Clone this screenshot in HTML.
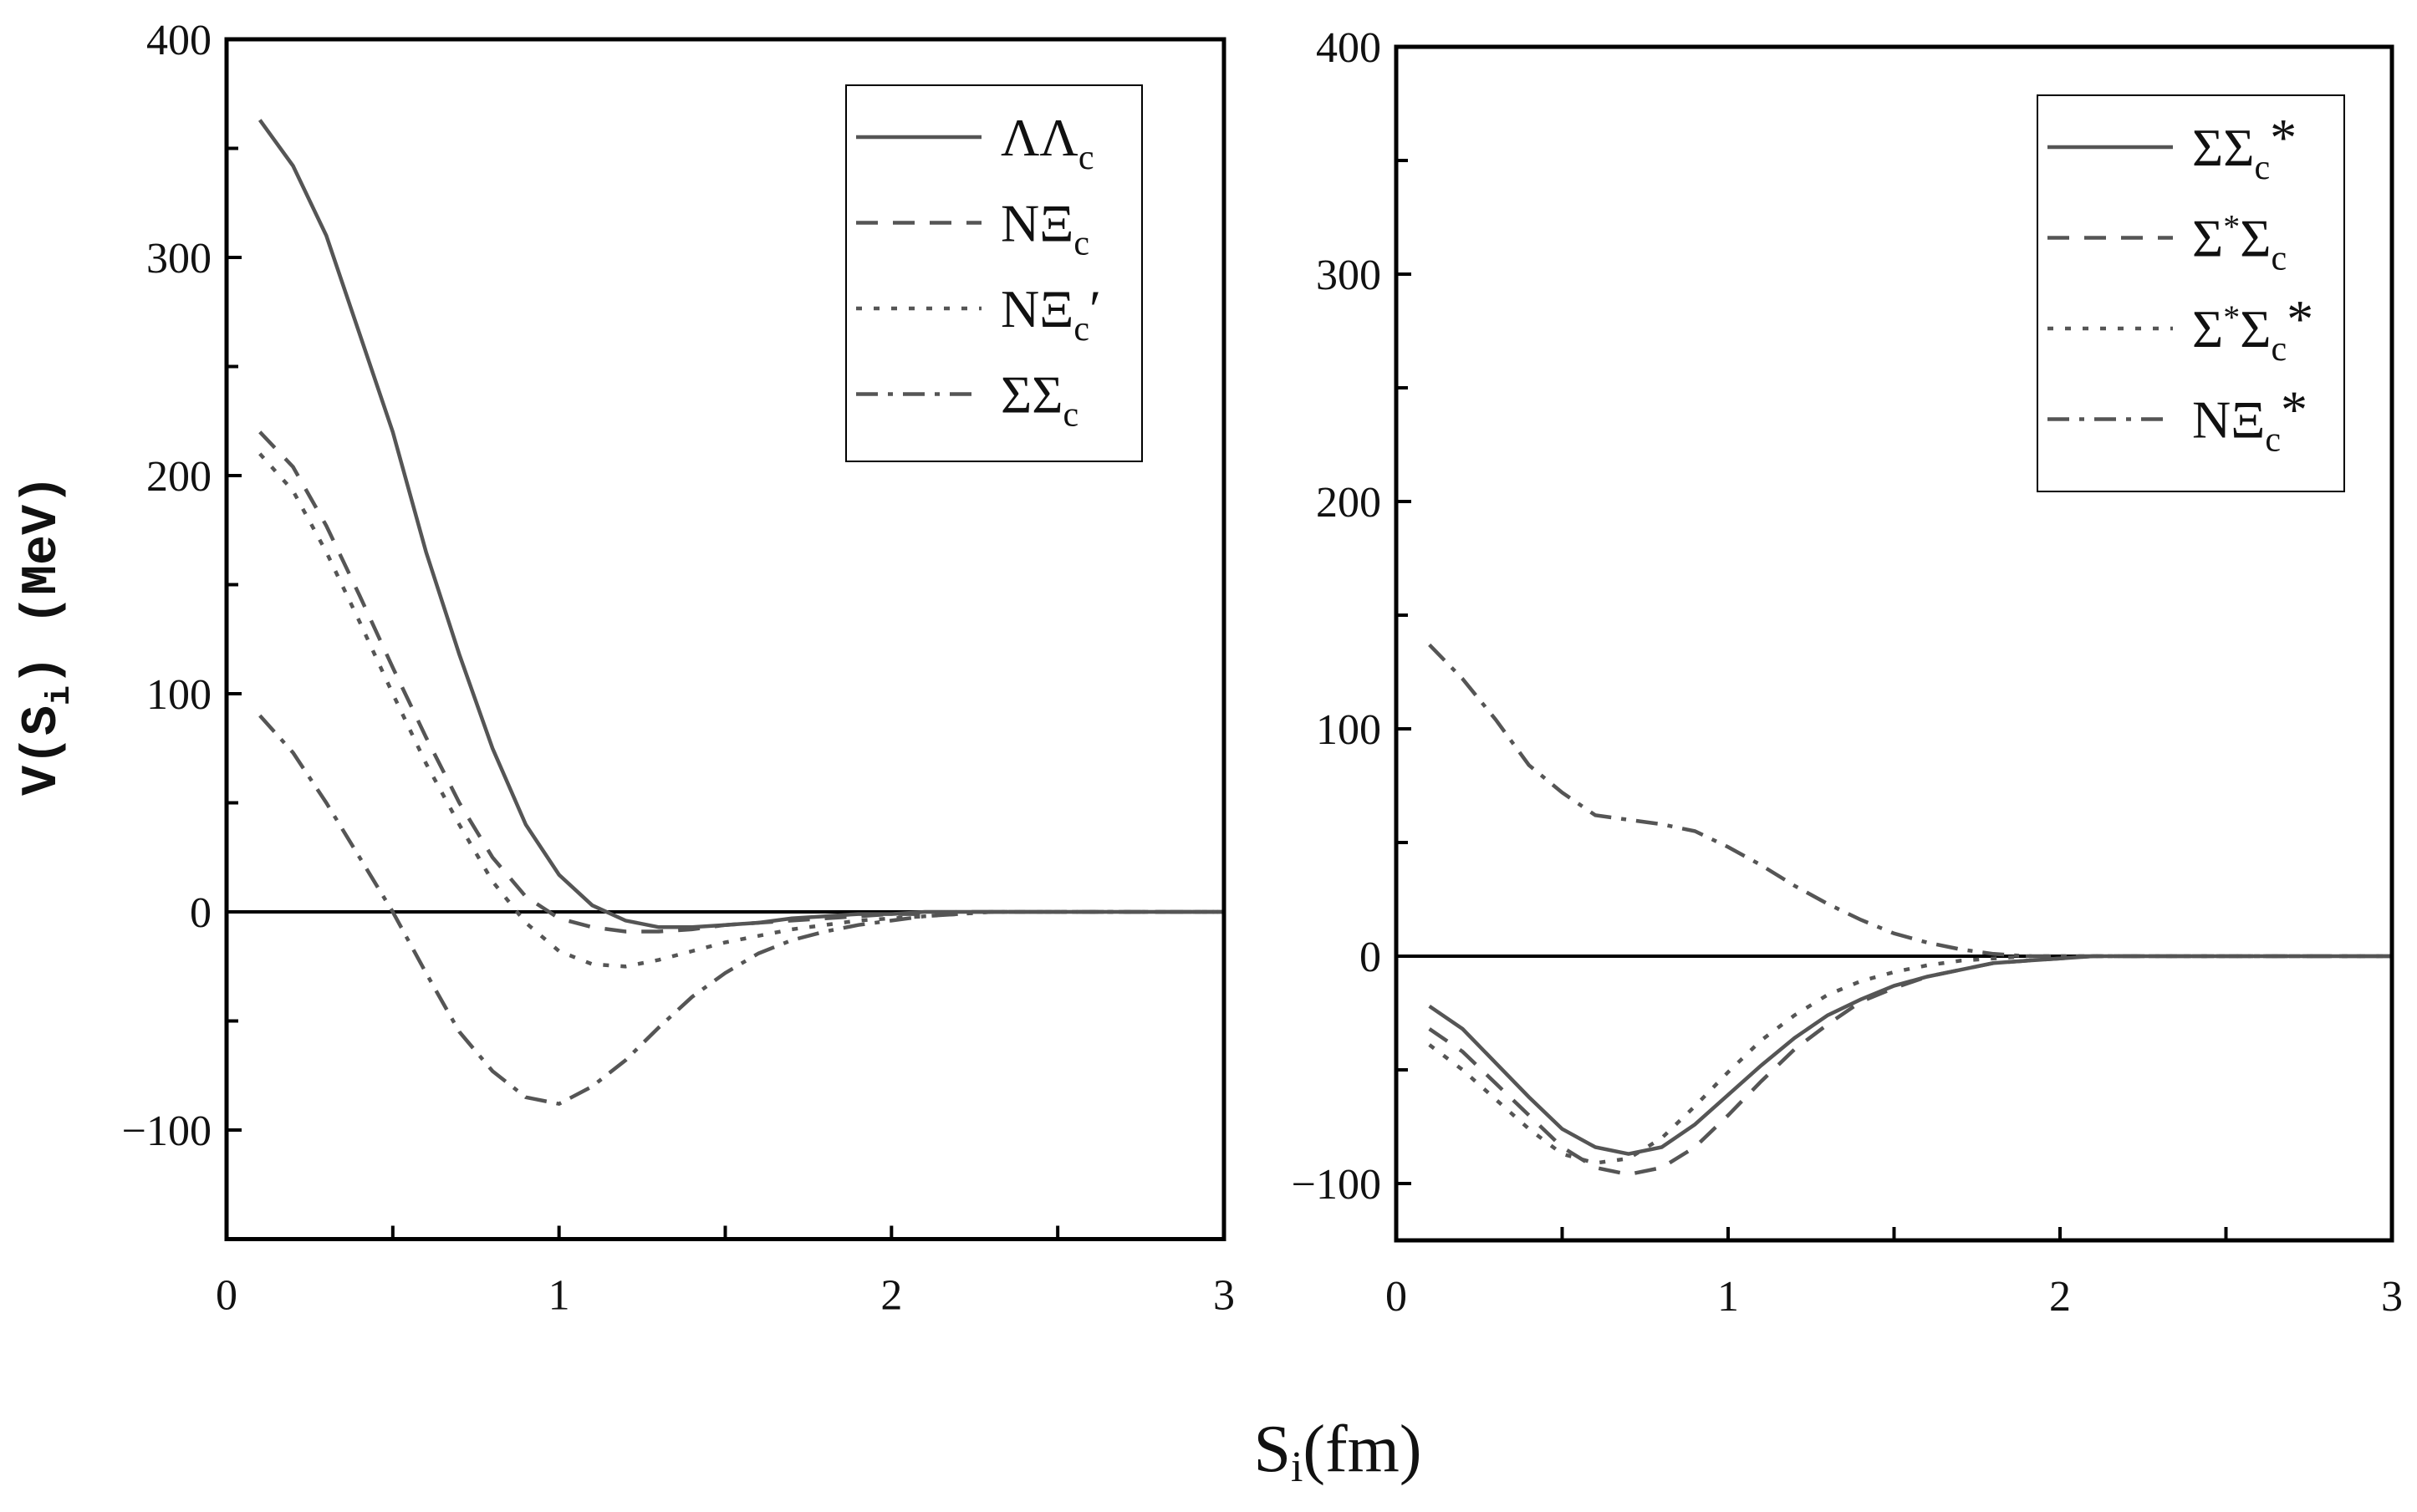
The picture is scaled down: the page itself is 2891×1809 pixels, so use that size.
<!DOCTYPE html>
<html><head><meta charset="utf-8"><style>
body{margin:0;background:#fff}
svg{display:block}
text{font-family:"Liberation Serif",serif;fill:#111}
</style></head><body>
<svg id="chart" width="2891" height="1809" viewBox="0 0 2891 1809" xmlns="http://www.w3.org/2000/svg">
<text transform="translate(66,760) rotate(-90)" text-anchor="middle" font-size="60" font-weight="bold" style="font-family:'Liberation Mono',monospace">V(S<tspan font-size="40" dy="16">i</tspan><tspan dy="-16">) (MeV)</tspan></text>
<text x="1600" y="1760" text-anchor="middle" font-size="80">S<tspan font-size="52" dy="12">i</tspan><tspan dy="-12">(fm)</tspan></text>
</svg>
<script>
const xs=[0.1,0.2,0.3,0.4,0.5,0.6,0.7,0.8,0.9,1.0,1.1,1.2,1.3,1.4,1.5,1.6,1.7,1.8,1.9,2.0,2.1,2.2,2.3,2.4,2.5,2.6,2.7,2.8,2.9,3.0];
const llc=[363,342,310,265,220,165,118,75,40,17,3,-4,-7,-7,-6,-5,-3,-2,-1,-1,0,0,0,0,0,0,0,0,0,0];
const nxc=[220,204,177,145,112,80,50,25,7,-3,-7,-9,-9,-8,-6,-5,-4,-3,-2,-1,-1,0,0,0,0,0,0,0,0,0];
const nxcp=[210,193,165,133,100,68,40,14,-5,-18,-24,-25,-22,-18,-14,-11,-8,-6,-4,-3,-2,-1,0,0,0,0,0,0,0,0];
const ssc=[90,73,50,25,0,-28,-55,-73,-85,-88,-80,-68,-53,-39,-28,-19,-13,-9,-6,-4,-2,-1,0,0,0,0,0,0,0,0];
const sscs=[-22,-32,-47,-62,-76,-84,-87,-84,-74,-61,-48,-36,-26,-19,-13,-9,-6,-3,-2,-1,0,0,0,0,0,0,0,0,0,0];
const sssc=[-32,-42,-56,-70,-84,-93,-96,-93,-84,-70,-55,-41,-30,-20,-14,-9,-6,-3,-2,-1,0,0,0,0,0,0,0,0,0,0];
const ssscs=[-39,-50,-63,-76,-87,-91,-89,-80,-66,-51,-37,-26,-17,-11,-7,-4,-2,-1,0,0,0,0,0,0,0,0,0,0,0,0];
const nxcs=[137,122,104,84,72,62,60,58,55,48,40,31,23,16,10,6,3,1,0,0,0,0,0,0,0,0,0,0,0,0];
const xTicks=[0,1,2,3];
const yTicksL=[-100,0,100,200,300,400];
const yTicksR=[-100,0,100,200,300,400];
const dashes=["","26,18","7,14","26,12,6,12"];
const NS="http://www.w3.org/2000/svg";
const svg=document.getElementById('chart');
function mk(t,a,p){const e=document.createElementNS(NS,t);for(const k in a)e.setAttribute(k,a[k]);(p||svg).appendChild(e);return e;}
function panel(cfg){
  const g=mk('g',{});
  
  
  const X=v=>cfg.x0+(v-0)/(3-0)*(cfg.x1-cfg.x0);
  const Y=v=>cfg.y0+(v-0)*cfg.ypu;
  const top=Y(400),bot=Y(cfg.ymin);
  const z=mk('line',{x1:cfg.x0,x2:cfg.x1,y1:Y(0),y2:Y(0),stroke:'#000','stroke-width':4},g);
  
  
  cfg.series.forEach((s,i)=>{
    const d=xs.map((x,j)=>(j?'L':'M')+X(x).toFixed(1)+','+Y(s.v[j]).toFixed(1)).join('');
    const p=mk('path',{d:d,fill:'none',stroke:'#555','stroke-width':4.5,'stroke-dasharray':dashes[i]},g);
    
    
  });
  for(let v=-100;v<=400;v+=50){ if(v<cfg.ymin)continue;
    const t=mk('line',{x1:cfg.x0,x2:cfg.x0+(v%100===0?18:14),y1:Y(v),y2:Y(v),stroke:'#000','stroke-width':4},g);
    
    
  }
  cfg.yt.forEach(v=>{
    const t=mk('text',{x:cfg.x0-18,y:Y(v)+18,'text-anchor':'end','font-size':52},g);
    t.textContent=v<0?'\u2212'+(-v):String(v);
    
    
  });
  for(let v=0.5;v<3;v+=0.5){
    const t=mk('line',{x1:X(v),x2:X(v),y1:bot,y2:bot-16,stroke:'#000','stroke-width':4},g);
    
    
  }
  xTicks.forEach(v=>{
    const t=mk('text',{x:X(v),y:bot+84,'text-anchor':'middle','font-size':52},g);
    t.textContent=String(v);
    
    
  });
  const f=mk('rect',{x:cfg.x0,y:top,width:cfg.x1-cfg.x0,height:bot-top,fill:'none',stroke:'#000','stroke-width':5},g);
  
  
  const L=cfg.leg;
  const lg=mk('g',{},g);
  
  
  mk('rect',{x:L.x,y:L.y,width:L.w,height:L.h,fill:'#fff',stroke:'#000','stroke-width':2},lg);
  cfg.series.forEach((s,i)=>{
    const yy=L.y+62+i*(L.h-40)/4;
    const e=mk('g',{},lg);
    
    
    mk('line',{x1:L.x+12,x2:L.x+162,y1:yy,y2:yy,stroke:'#555','stroke-width':4.5,'stroke-dasharray':dashes[i]},e);
    const t=mk('text',{x:L.x+185,y:yy+22,'font-size':64},e);
    t.innerHTML=s.label;
  });
}
const sub='<tspan font-size="42" dy="16">c</tspan>';
panel({name:'left-panel',x0:271,x1:1464,y0:1091,ypu:-2.61,ymin:-150,yt:yTicksL,
 leg:{x:1012,y:102,w:354,h:450},
 series:[{id:'LLc',v:llc,label:'ΛΛ'+sub},{id:'NXc',v:nxc,label:'NΞ'+sub},
  {id:'NXc-prime',v:nxcp,label:'NΞ'+sub+'<tspan dy="-16">′</tspan>'},{id:'SSc',v:ssc,label:'ΣΣ'+sub}]});
panel({name:'right-panel',x0:1670,x1:2861,y0:1144,ypu:-2.72,ymin:-125,yt:yTicksR,
 leg:{x:2437,y:114,w:367,h:474},
 series:[{id:'SSc-star',v:sscs,label:'ΣΣ'+sub+'<tspan dy="-28">*</tspan>'},
  {id:'Ss-Sc',v:sssc,label:'Σ<tspan font-size="40" dy="-22">*</tspan><tspan dy="22">Σ</tspan>'+sub},
  {id:'Ss-Sc-star',v:ssscs,label:'Σ<tspan font-size="40" dy="-22">*</tspan><tspan dy="22">Σ</tspan>'+sub+'<tspan dy="-28">*</tspan>'},
  {id:'NXc-star',v:nxcs,label:'NΞ'+sub+'<tspan dy="-28">*</tspan>'}]});
</script>
</body></html>
